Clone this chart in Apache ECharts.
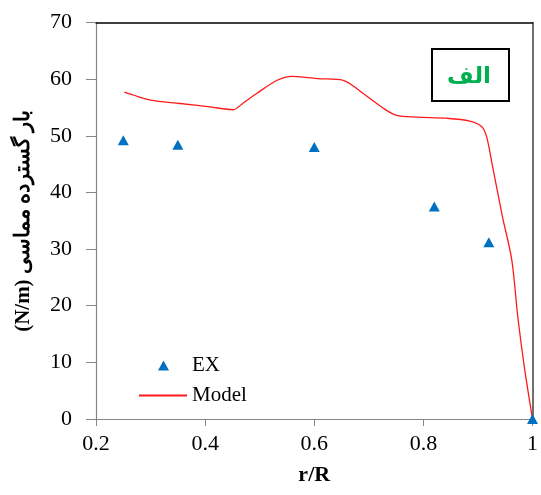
<!DOCTYPE html>
<html><head><meta charset="utf-8">
<script src="https://cdn.jsdelivr.net/npm/echarts@6/dist/echarts.min.js"></script>
<style>html,body{margin:0;padding:0;background:#fff}#c{width:541px;height:495px}</style>
</head><body><div id="c"></div>
<script>
const xTicks = [0.2, 0.4, 0.6, 0.8, 1];
const yTicks = [0, 10, 20, 30, 40, 50, 60, 70];
const exR = [0.25, 0.35, 0.6, 0.82, 0.92, 1.0];
const exF = [49.2, 48.4, 48.0, 37.5, 31.2, 0];
const modelR = [0.252, 0.268, 0.30, 0.354, 0.409, 0.451, 0.47, 0.495, 0.532, 0.559, 0.605, 0.653, 0.689, 0.726, 0.751, 0.788, 0.843, 0.885, 0.907, 0.916, 0.927, 0.945, 0.962, 0.973, 0.985, 1.0];
const modelF = [57.7, 57.2, 56.3, 55.7, 55.1, 54.6, 55.8, 57.5, 59.8, 60.5, 60.1, 59.8, 57.5, 54.9, 53.6, 53.3, 53.1, 52.6, 51.6, 49.8, 44.5, 35.7, 28.1, 18.1, 9.2, 0];
const xTitle = 'r/R';
const yTitle = '(N/m) بار گسترده مماسی';
const boxLabel = 'الف';

const serif = '"Times New Roman","Liberation Serif","DejaVu Serif",serif';
const chart = echarts.init(document.getElementById('c'));
const zip = (a, b) => a.map((v, i) => [v, b[i]]);
chart.setOption({
  animation: false,
  grid: {left: 96, right: 8, top: 22.5, bottom: 76},
  xAxis: [{
    type: 'value', min: 0.2, max: 1, interval: 0.2,
    axisLine: {onZero: false, lineStyle: {color: '#868686', width: 1.2}},
    axisTick: {show: true, length: 7, lineStyle: {color: '#868686'}},
    splitLine: {show: false},
    axisLabel: {fontFamily: serif, fontSize: 22, color: '#000', margin: 14,
      formatter: v => String(Math.round(v * 10) / 10)},
    name: xTitle, nameLocation: 'middle', nameGap: 45,
    nameTextStyle: {fontFamily: serif, fontSize: 22, fontWeight: 'bold', color: '#000'}
  }, {
    type: 'value', position: 'top', min: 0.2, max: 1,
    axisLine: {show: true, onZero: false, lineStyle: {color: '#000', width: 1.5}},
    axisTick: {show: false}, axisLabel: {show: false}, splitLine: {show: false}
  }],
  yAxis: [{
    type: 'value', min: 0, max: 70, interval: 10,
    axisLine: {show: true, onZero: false, lineStyle: {color: '#868686', width: 1.2}},
    axisTick: {show: true, length: 10, lineStyle: {color: '#868686'}},
    splitLine: {show: false},
    axisLabel: {fontFamily: serif, fontSize: 22, color: '#000', margin: 24},
    name: yTitle, nameLocation: 'middle', nameGap: 62, nameRotate: 90,
    nameTextStyle: {fontFamily: serif, fontSize: 21, fontWeight: 'bold', color: '#000'}
  }, {
    type: 'value', position: 'right', min: 0, max: 70,
    axisLine: {show: true, onZero: false, lineStyle: {color: '#404040', width: 1.5}},
    axisTick: {show: false}, axisLabel: {show: false}, splitLine: {show: false}
  }],
  legend: [{
    data: [{name: 'EX', icon: 'triangle'}], orient: 'vertical', left: 153, top: 350,
    itemWidth: 11, itemHeight: 10, itemGap: 0,
    textStyle: {fontFamily: serif, fontSize: 21, color: '#000', padding: [0, 0, 0, 18]}
  }, {
    data: [{name: 'Model', icon: 'rect'}], orient: 'vertical', left: 134, top: 380,
    itemWidth: 48, itemHeight: 2, itemGap: 0,
    textStyle: {fontFamily: serif, fontSize: 21, color: '#000'}
  }],
  series: [{
    name: 'Model', type: 'line', data: zip(modelR, modelF),
    smooth: 0.3, symbol: 'none',
    lineStyle: {color: '#ff1a1a', width: 1.3}, itemStyle: {color: '#ff1a1a'}, z: 2
  }, {
    name: 'EX', type: 'scatter', data: zip(exR, exF),
    symbol: 'triangle', symbolSize: [11, 10],
    itemStyle: {color: '#0070c0', opacity: 1}, z: 3
  }],
  graphic: [{
    type: 'group', left: 431, top: 48,
    children: [{
      type: 'rect', shape: {x: 0, y: 0, width: 77, height: 52},
      style: {fill: '#fff', stroke: '#000', lineWidth: 2}
    }, {
      type: 'text', x: 37, y: 28,
      style: {text: boxLabel, fill: '#00b050', fontSize: 23, fontWeight: 'bold',
        fontFamily: '"DejaVu Sans",sans-serif', align: 'center', verticalAlign: 'middle'}
    }]
  }]
});
</script></body></html>
